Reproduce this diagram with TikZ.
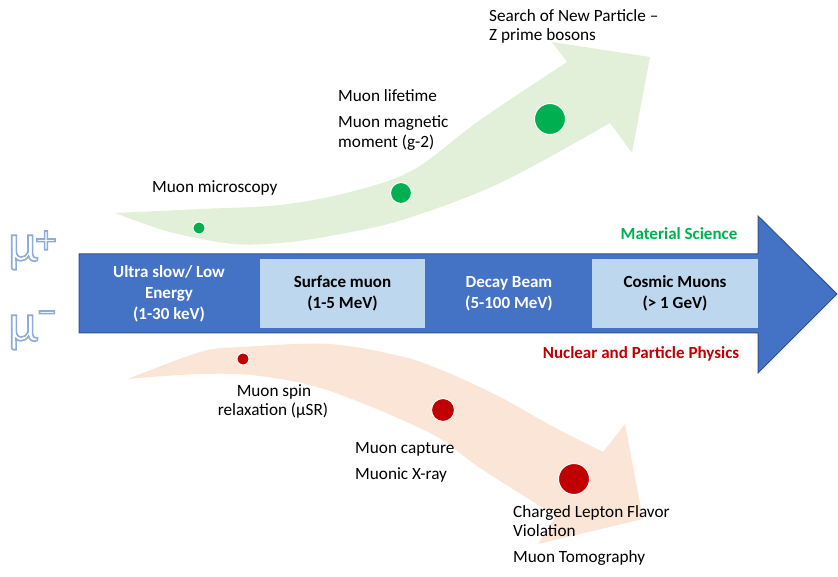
\documentclass[tikz,border=0pt]{standalone}
\usepackage{fontspec}
\setmainfont{Carlito}
\definecolor{mainblue}{HTML}{4472C4}
\definecolor{edgeblue}{HTML}{2F528F}
\definecolor{lightbox}{HTML}{BDD7EE}
\definecolor{greenband}{HTML}{E2F0D9}
\definecolor{redband}{HTML}{FBE5D6}
\definecolor{dotgreen}{HTML}{00B050}
\definecolor{dotred}{HTML}{C00000}
\newcommand{\outlinedtxt}[1]{\textcolor{white}{\special{pdf:code 0.56 0.67 0.86 RG 2 Tr 1.6 w}#1\special{pdf:code 0 Tr}}}
\begin{document}
\begin{tikzpicture}[x=1pt,y=-1pt,
  lbl/.style={font=\fontsize{17.2}{20}\selectfont, anchor=base west, inner sep=0pt},
  clbl/.style={font=\fontsize{17.2}{20}\selectfont, anchor=base, inner sep=0pt},
  catlbl/.style={font=\fontsize{17}{20}\bfseries\selectfont, anchor=base, inner sep=0pt},
  rangebox/.style={fill=lightbox, draw=none, minimum height=69, align=center,
    font=\fontsize{17}{21}\bfseries\selectfont, inner sep=0pt},
  rangetxt/.style={align=center, text=white, font=\fontsize{17}{21}\bfseries\selectfont, inner sep=0pt},
  gdot/.style={circle, fill=dotgreen, draw=white, line width=1pt, inner sep=0pt},
  rdot/.style={circle, fill=dotred, draw=white, line width=1pt, inner sep=0pt},
  musym/.style={font=\fontsize{54}{54}\selectfont, anchor=base west, inner sep=0pt},
  musign/.style={font=\fontsize{40}{40}\selectfont, anchor=center, inner sep=0pt},
]
\useasboundingbox (0,0) rectangle (838,577);

% green band (positive muon applications)
\fill[greenband] plot[smooth, tension=0.55] coordinates {(115,213) (200,209) (280,205) (350,192) (413,170) (480,120) (567,62)}
  -- (552,42) -- (650,57) -- (632,153) -- (610,123)
  -- plot[smooth, tension=0.55] coordinates {(610,123) (500,183) (402,220) (330,236) (280,243) (233,244) (170,232) (115,213)} -- cycle;

% red band (negative muon applications)
\fill[redband] plot[smooth, tension=0.55] coordinates {(128,379) (200,352) (241,347) (329,344) (400,356) (444,371) (500,397) (550,425) (603,452)}
  -- (625,424) -- (643,519) -- (538,544) -- (556,516)
  -- plot[smooth, tension=0.55] coordinates {(556,516) (480,468) (430,433) (330,391) (260,376) (200,374) (128,379)} -- cycle;

% main arrow
\draw[fill=mainblue, draw=edgeblue, line width=1pt, line join=miter]
  (79,254) -- (758,254) -- (758,216) -- (837,294) -- (758,373) -- (758,333) -- (79,333) -- cycle;

\node[rangebox, minimum width=165] (surf) at (342.5,293.5) {Surface muon\\(1-5 MeV)};
\node[rangebox, minimum width=166] (cosmic) at (675,293.5) {Cosmic Muons\\(> 1 GeV)};
\node[rangetxt] (ultra) at (169,294) {Ultra slow/ Low\\Energy\\(1-30 keV)};
\node[rangetxt] (decay) at (509,293.5) {Decay Beam\\(5-100 MeV)};

\node[catlbl, text=dotgreen] (matsci) at (679,240) {Material Science};
\node[catlbl, text=dotred] (nucphys) at (641,359) {Nuclear and Particle Physics};

% dots
\node[gdot, minimum size=12] (g1) at (199,228) {};
\node[gdot, minimum size=21] (g2) at (401,193) {};
\node[gdot, minimum size=31] (g3) at (550,119) {};
\node[rdot, minimum size=12] (r1) at (243,359) {};
\node[rdot, minimum size=23] (r2) at (443,410) {};
\node[rdot, minimum size=31] (r3) at (574,479) {};

% labels green side
\node[lbl] (t1) at (489,22) {Search of New Particle –};
\node[lbl] (t2) at (489,41) {Z prime bosons};
\node[lbl] (t3) at (338,102) {Muon lifetime};
\node[lbl] (t4) at (338,128) {Muon magnetic};
\node[lbl] (t5) at (338,148) {moment (g-2)};
\node[lbl] (t6) at (152,193) {Muon microscopy};

% labels red side
\node[clbl] (t7) at (274,396) {Muon spin};
\node[clbl] (t8) at (273,415) {relaxation (μSR)};
\node[lbl] (t9) at (355,453) {Muon capture};
\node[lbl] (t10) at (355,479) {Muonic X-ray};
\node[lbl] (t11) at (513,517) {Charged Lepton Flavor};
\node[lbl] (t12) at (513,536) {Violation};
\node[lbl] (t13) at (513,562) {Muon Tomography};

% mu symbols
\node[musym] (muplus) at (8,261) {\outlinedtxt{μ}};
\node[musign] (plussign) at (46,242) {\outlinedtxt{+}};
\node[musym] (muminus) at (8,341) {\outlinedtxt{μ}};
\node[musign] (minussign) at (47,318) {\outlinedtxt{−}};
\end{tikzpicture}
\end{document}
